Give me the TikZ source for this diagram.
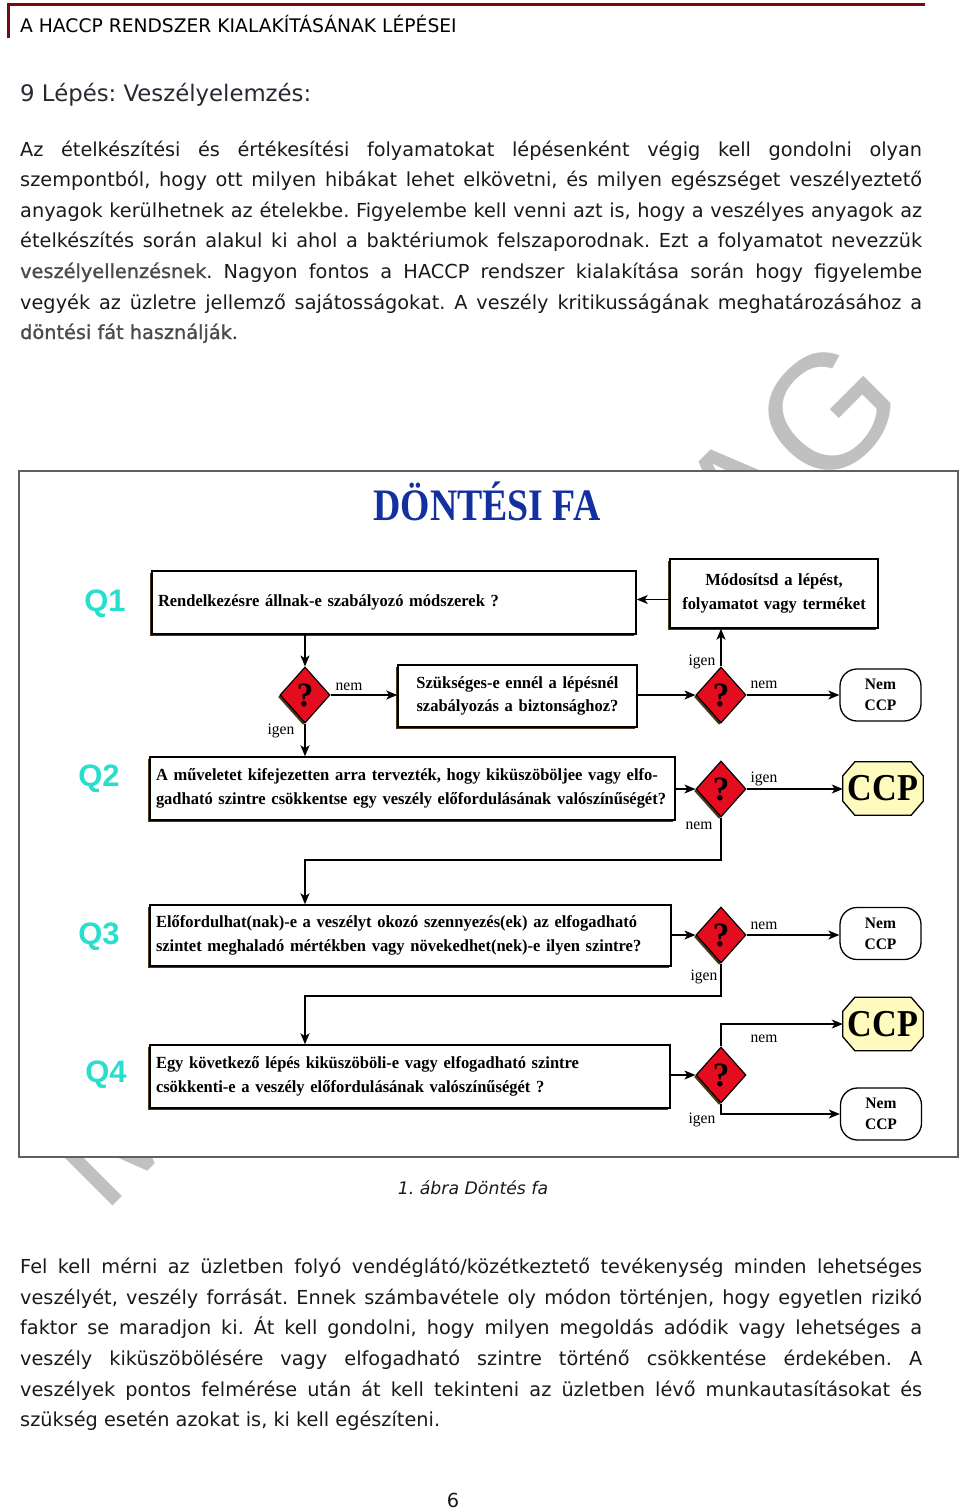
\documentclass[tikz,border=0pt]{standalone}
\usepackage{fontspec}
\usetikzlibrary{arrows.meta,shapes.geometric,shadows,backgrounds,calc}
\setmainfont{DejaVu Sans}
\newfontfamily\bodyfont{DejaVu Sans}
\newfontfamily\bodyboldfont{DejaVu Sans}[FakeBold=1.3]
\newfontfamily\dfont{Liberation Serif}[FakeStretch=0.97,WordSpace=0.85]
\newfontfamily\titlefont{Liberation Serif}[FakeStretch=0.84]
\newfontfamily\ccpfont{Liberation Serif}[FakeStretch=0.9]
\newfontfamily\qfont{Liberation Sans}
\newfontfamily\wmfont{Liberation Sans}
\frenchspacing
\definecolor{hdrred}{RGB}{120,10,15}
\definecolor{txt}{RGB}{25,25,25}
\definecolor{boldgray}{RGB}{75,75,75}
\definecolor{qcyan}{RGB}{40,222,205}
\definecolor{titleblue}{RGB}{18,48,160}
\definecolor{dred}{RGB}{230,12,32}
\definecolor{ccpyellow}{RGB}{255,250,190}
\definecolor{shadowbrown}{RGB}{80,55,20}
\definecolor{framegray}{RGB}{95,95,95}
\definecolor{wmgray}{RGB}{192,192,192}
\newcommand{\hiword}[1]{{\bodyboldfont\color{boldgray}#1}}
\tikzset{
  body/.style={anchor=base west, inner sep=0pt, font=\bodyfont\fontsize{19.3}{22}\selectfont, text=txt},
  boxshadow/.style={drop shadow={shadow xshift=-2pt, shadow yshift=-2pt, opacity=1, fill=shadowbrown}},
  qbox/.style={draw, line width=1.5pt, fill=white, rectangle, inner xsep=6pt, inner ysep=0pt, align=left,
     font=\dfont\bfseries\fontsize{17}{23.5}\selectfont, boxshadow},
  cbox/.style={qbox, align=center},
  dia/.style={diamond, draw, line width=1.2pt, fill=dred, minimum width=50pt, minimum height=56pt,
     inner sep=0pt, font=\dfont\bfseries\fontsize{34}{34}\selectfont, boxshadow},
  nemccp/.style={draw, line width=1.3pt, rounded corners=17pt, fill=white, minimum width=81pt,
     minimum height=52pt, align=center, inner sep=0pt, font=\dfont\bfseries\fontsize{16}{21}\selectfont},
  ccpsty/.style={rectangle, minimum width=80pt, minimum height=53pt, inner sep=0pt,
     font=\ccpfont\bfseries\fontsize{38}{38}\selectfont},
  octo/.style={draw, line width=1.3pt, fill=ccpyellow},
  qlbl/.style={inner sep=0pt, font=\qfont\bfseries\fontsize{31}{31}\selectfont, text=qcyan},
  lbl/.style={inner sep=0pt, font=\dfont\fontsize{16}{16}\selectfont},
  arr/.style={-{Stealth[length=11pt,width=9pt,inset=3pt]}, line width=1.3pt},
}
\begin{document}
\begin{tikzpicture}[x=1pt,y=-1pt]
\useasboundingbox (0,0) rectangle (960,1510);
\begin{pgfonlayer}{background}
  \node[rotate=45, anchor=base west, inner sep=0pt, text=wmgray, font=\wmfont\fontsize{162.5}{162.5}\selectfont] (wm) at (103,1216) {MUNKAANYAG};
  \draw[framegray, line width=1.6pt, fill=white] (19,471) rectangle (958,1157);
\end{pgfonlayer}
% header
\draw[hdrred, line width=3pt] (7,4) -- (925,4);
\draw[hdrred, line width=2.5pt] (8.5,3) -- (8.5,38);
\node[anchor=base west, inner sep=0pt, font=\bodyfont\fontsize{18.7}{18.7}\selectfont, text=black] (hdr) at (20,32.5) {A HACCP RENDSZER KIALAKÍTÁSÁNAK LÉPÉSEI};
\node[anchor=base west, inner sep=0pt, font=\bodyfont\fontsize{22.8}{22.8}\selectfont, text={rgb,255:red,40;green,40;blue,50}] (h9) at (20,101) {9 Lépés: Veszélyelemzés:};
% paragraph 1
\node[body] (p1a) at (20,156) {\makebox[902pt][s]{Az ételkészítési és értékesítési folyamatokat lépésenként végig kell gondolni olyan}};
\node[body] (p1b) at (20,186) {\makebox[902pt][s]{szempontból, hogy ott milyen hibákat lehet elkövetni, és milyen egészséget veszélyeztető}};
\node[body] (p1c) at (20,217) {\makebox[902pt][s]{anyagok kerülhetnek az ételekbe. Figyelembe kell venni azt is, hogy a veszélyes anyagok az}};
\node[body] (p1d) at (20,247) {\makebox[902pt][s]{ételkészítés során alakul ki ahol a baktériumok felszaporodnak. Ezt a folyamatot nevezzük}};
\node[body] (p1e) at (20,278) {\makebox[902pt][s]{\hiword{veszélyellenzésnek}. Nagyon fontos a HACCP rendszer kialakítása során hogy figyelembe}};
\node[body] (p1f) at (20,309) {\makebox[902pt][s]{vegyék az üzletre jellemző sajátosságokat. A veszély kritikusságának meghatározásához a}};
\node[body] (p1g) at (20,339) {\hiword{döntési fát használják}.};
% diagram title
\node[inner sep=0pt, font=\titlefont\bfseries\fontsize{45}{45}\selectfont, text=titleblue] (title) at (487,501) {DÖNTÉSI FA};
% Q labels
\node[qlbl] (lq1) at (105,604) {Q1};
\node[qlbl] (lq2) at (99,779) {Q2};
\node[qlbl] (lq3) at (99,937) {Q3};
\node[qlbl] (lq4) at (106,1075) {Q4};
% boxes
\node[qbox, text width=472pt, minimum height=63pt] (q1) at (394,602.5) {Rendelkezésre állnak-e szabályozó módszerek ?};
\node[cbox, text width=196pt, minimum height=69pt] (mod) at (774,593.5) {Módosítsd a lépést,\\folyamatot vagy terméket};
\node[cbox, text width=227pt, minimum height=62pt] (szuk) at (517.5,696) {Szükséges-e ennél a lépésnél\\szabályozás a biztonsághoz?};
\node[qbox, text width=513pt, minimum height=63pt] (q2) at (412.5,788.5) {\mbox{A műveletet kifejezetten arra tervezték, hogy kiküszöböljee vagy elfo-}\\\mbox{gadható szintre csökkentse egy veszély előfordulásának valószínűségét?}};
\node[qbox, text width=509pt, minimum height=61pt] (q3) at (410.5,935.5) {\mbox{Előfordulhat(nak)-e a veszélyt okozó szennyezés(ek) az elfogadható}\\\mbox{szintet meghaladó mértékben vagy növekedhet(nek)-e ilyen szintre?}};
\node[qbox, text width=508pt, minimum height=63pt] (q4) at (410,1076.5) {\mbox{Egy következő lépés kiküszöböli-e vagy elfogadható szintre}\\\mbox{csökkenti-e a veszély előfordulásának valószínűségét ?}};
% diamonds
\node[dia] (d1) at (305,695) {?};
\node[dia] (d2) at (721,695) {?};
\node[dia] (d3) at (721,789) {?};
\node[dia] (d4) at (721,935) {?};
\node[dia] (d5) at (721,1075) {?};
% outcomes
\node[nemccp] (ncc1) at (880.5,695) {Nem\\CCP};
\node[nemccp] (ncc2) at (880.5,933.5) {Nem\\CCP};
\node[nemccp] (ncc3) at (881,1114) {Nem\\CCP};
\node[ccpsty] (ccp1) at (883,788.5) {CCP};
\node[ccpsty] (ccp2) at (883,1024) {CCP};
\begin{pgfonlayer}{background}
  \foreach \c in {ccp1,ccp2}{
    \draw[octo] ($(\c.north west)+(12,0)$) -- ($(\c.north east)+(-12,0)$) -- ($(\c.north east)+(0,14)$)
      -- ($(\c.south east)+(0,-14)$) -- ($(\c.south east)+(-12,0)$) -- ($(\c.south west)+(12,0)$)
      -- ($(\c.south west)+(0,-14)$) -- ($(\c.north west)+(0,14)$) -- cycle;
  }
\end{pgfonlayer}
% connectors
\draw[arr] (q1.south -| d1.north) -- (d1.north);
\draw[arr] (d1.east) -- (d1.east -| szuk.west);
\draw[arr] (szuk.east |- d2.west) -- (d2.west);
\draw[arr] (d2.north) -- (d2.north |- mod.south);
\draw[arr] (d2.east) -- (d2.east -| ncc1.west);
\draw[arr] ([yshift=-6pt]mod.west) -- ([yshift=-6pt]mod.west -| q1.east);
\draw[arr] (d1.south) -- (d1.south |- q2.north);
\draw[arr] (q2.east |- d3.west) -- (d3.west);
\draw[arr] (d3.east) -- (d3.east -| ccp1.west);
\coordinate (j1) at (721,860);
\draw[arr] (d3.south) -- (d3.south |- j1) -| (q3.north -| d1.south);
\draw[arr] (q3.east |- d4.west) -- (d4.west);
\draw[arr] (d4.east) -- (d4.east -| ncc2.west);
\coordinate (j2) at (721,996);
\draw[arr] (d4.south) -- (d4.south |- j2) -| (q4.north -| d1.south);
\draw[arr] (q4.east |- d5.west) -- (d5.west);
\draw[arr] (d5.north) |- (ccp2.west);
\draw[arr] (d5.south) |- (ncc3.west);
% connector labels
\node[lbl] (l1) at (349,687) {nem};
\node[lbl] (l2) at (281,731) {igen};
\node[lbl] (l3) at (702,662) {igen};
\node[lbl] (l4) at (764,685) {nem};
\node[lbl] (l5) at (764,779) {igen};
\node[lbl] (l6) at (699,826) {nem};
\node[lbl] (l7) at (764,926) {nem};
\node[lbl] (l8) at (704,977) {igen};
\node[lbl] (l9) at (764,1039) {nem};
\node[lbl] (l10) at (702,1120) {igen};
% caption
\node[inner sep=0pt, font=\bodyfont\itshape\fontsize{17.3}{22}\selectfont, text=txt] (cap) at (473,1188) {1. ábra Döntés fa};
% paragraph 2
\node[body] (p2a) at (20,1273) {\makebox[902pt][s]{Fel kell mérni az üzletben folyó vendéglátó/közétkeztető tevékenység minden lehetséges}};
\node[body] (p2b) at (20,1304) {\makebox[902pt][s]{veszélyét, veszély forrását. Ennek számbavétele oly módon történjen, hogy egyetlen rizikó}};
\node[body] (p2c) at (20,1334) {\makebox[902pt][s]{faktor se maradjon ki. Át kell gondolni, hogy milyen megoldás adódik vagy lehetséges a}};
\node[body] (p2d) at (20,1365) {\makebox[902pt][s]{veszély kiküszöbölésére vagy elfogadható szintre történő csökkentése érdekében. A}};
\node[body] (p2e) at (20,1396) {\makebox[902pt][s]{veszélyek pontos felmérése után át kell tekinteni az üzletben lévő munkautasításokat és}};
\node[body] (p2f) at (20,1426) {szükség esetén azokat is, ki kell egészíteni.};
\node[inner sep=0pt, font=\bodyfont\fontsize{19.3}{22}\selectfont, text=txt] (pg) at (453,1500) {6};
\end{tikzpicture}
\end{document}
